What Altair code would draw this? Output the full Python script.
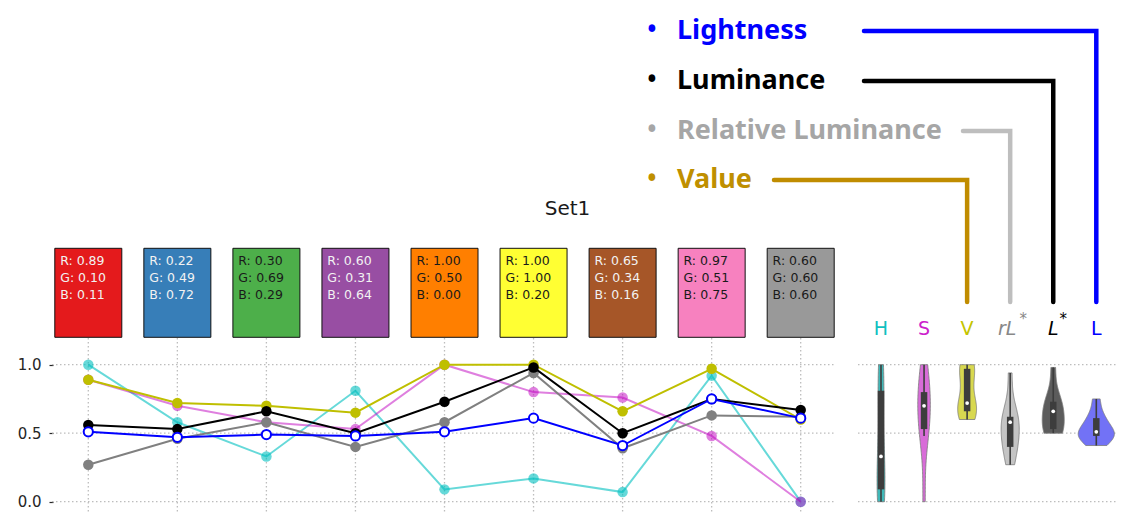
import altair as alt
import numpy as np
import pandas as pd

# ---------------- data ----------------
swatch_hex = ["#e41a1c", "#377eb8", "#4daf4a", "#984ea3", "#ff7f00",
              "#ffff33", "#a65628", "#f781bf", "#999999"]
rgb_r = [0.89, 0.22, 0.30, 0.60, 1.00, 1.00, 0.65, 0.97, 0.60]
rgb_g = [0.10, 0.49, 0.69, 0.31, 0.50, 1.00, 0.34, 0.51, 0.60]
rgb_b = [0.11, 0.72, 0.29, 0.64, 0.00, 0.20, 0.16, 0.75, 0.60]

hue = [1.00, 0.58, 0.33, 0.81, 0.09, 0.17, 0.07, 0.92, 0.00]
saturation = [0.89, 0.70, 0.58, 0.53, 1.00, 0.80, 0.76, 0.48, 0.00]
value = [0.89, 0.72, 0.70, 0.65, 1.00, 1.00, 0.66, 0.97, 0.60]
rel_luminance = [0.27, 0.46, 0.58, 0.40, 0.58, 0.94, 0.39, 0.63, 0.62]
luminance = [0.56, 0.53, 0.66, 0.50, 0.73, 0.98, 0.50, 0.75, 0.67]
lightness = [0.51, 0.47, 0.49, 0.48, 0.51, 0.61, 0.41, 0.75, 0.61]

metric_keys = ["H", "S", "V", "rL", "Lstar", "L"]
metric_values = [hue, saturation, value, rel_luminance, luminance, lightness]
metric_labels = ["H", "S", "V", "rL", "L", "L"]
metric_sup = ["", "", "", "*", "*", ""]

legend_names = ["Lightness", "Luminance", "Relative Luminance", "Value"]
legend_targets = ["L", "Lstar", "rL", "V"]
title_text = "Set1"

# ---------------- styles / layout ----------------
line_colors = ["#00bfbf", "#bf00bf", "#bfbf00", "#808080", "#000000", "#0000ff"]
line_opac = [0.6, 0.5, 1.0, 1.0, 1.0, 1.0]
violin_fill = ["#3fb8b8", "#d86cd8", "#d8d850", "#c4c4c4", "#5c5c5c", "#7272f6"]
label_colors = ["#10c0c0", "#cc22cc", "#c4c400", "#888888", "#000000", "#0000ff"]
legend_text_colors = ["#0000ff", "#000000", "#a6a6a6", "#bf8f00"]
legend_line_colors = ["#0000ff", "#000000", "#bebebe", "#c08c00"]
legend_y = [31, 81, 131, 180]
legend_line_start = [864, 864, 963, 774]

CW, CH = 1134, 531
LEFT = 53
X0, DX = 88.3, 89.05      # pixel of first category, spacing
Y0, DY = 501.7, 137.0     # pixel of value 0, pixels per unit
VX0, VSTEP = 881.0, 43.06  # violin panel columns


def ux(px):
    return (px - X0) / DX


def uy(py):
    return (Y0 - py) / DY


xscale = alt.Scale(domain=[ux(LEFT), ux(CW)], nice=False, zero=False)
yscale = alt.Scale(domain=[uy(CH), uy(0)], nice=False, zero=False)
YAX = alt.Axis(values=[0, 0.5, 1], format=".1f", domain=False, grid=False,
               tickSize=4, tickColor="#262626", tickWidth=1.2,
               labelFont="DejaVu Sans", labelFontSize=15, labelColor="#262626",
               labelPadding=8, title=None)


def Y(field):
    return alt.Y(field, scale=yscale, axis=YAX, title=None)


def X(field):
    return alt.X(field, scale=xscale, axis=None)


n = len(swatch_hex)
vpos = {k: ux(VX0 + VSTEP * j) for j, k in enumerate(metric_keys)}

long_rows = []
for k, vals in zip(metric_keys, metric_values):
    for i, v in enumerate(vals):
        long_rows.append({"idx": i, "metric": k, "value": v, "vpos": vpos[k]})
long_df = pd.DataFrame(long_rows)

sw_df = pd.DataFrame({"idx": list(range(n)), "hex": swatch_hex})
txt_rows = []
for i in range(n):
    lum = 0.2126 * rgb_r[i] + 0.7152 * rgb_g[i] + 0.0722 * rgb_b[i]
    tc = "#f2f2f2" if lum < 0.5 else "#1a1a1a"
    for k, (ch, v) in enumerate(zip("RGB", (rgb_r[i], rgb_g[i], rgb_b[i]))):
        txt_rows.append({"idx": i, "line": k, "label": f"{ch}: {v:.2f}", "tc": tc})
txt_df = pd.DataFrame(txt_rows)

layers = []

# vertical grid of the line panel
vg = pd.DataFrame({"idx": list(range(n))})
layers.append(
    alt.Chart(vg).transform_calculate(y1=str(uy(338)), y2=str(uy(514)))
    .mark_rule(color="#bdbdbd", strokeWidth=1.3, strokeDash=[1.5, 2.5])
    .encode(x=X("idx:Q"), y=Y("y1:Q"), y2="y2:Q")
)

# horizontal grids (line panel + violin panel)
hg = pd.DataFrame({"t": [0.0, 0.5, 1.0]})
for a, b in [(52, 836), (858, 1116)]:
    layers.append(
        alt.Chart(hg).transform_calculate(xa=str(ux(a)), xb=str(ux(b)))
        .mark_rule(color="#bdbdbd", strokeWidth=1.3, strokeDash=[1.5, 2.5])
        .encode(y=Y("t:Q"), x=X("xa:Q"), x2="xb:Q")
    )

# swatches
half = 33.5 / DX
layers.append(
    alt.Chart(sw_df).transform_calculate(
        xa=f"datum.idx - {half}", xb=f"datum.idx + {half}",
        ya=str(uy(248.3)), yb=str(uy(337.3)))
    .mark_rect(stroke="#111111", strokeWidth=1)
    .encode(x=X("xa:Q"), x2="xb:Q", y=Y("ya:Q"), y2="yb:Q",
            fill=alt.Fill("hex:N", scale=None))
)
layers.append(
    alt.Chart(txt_df).transform_calculate(
        tx=f"datum.idx - {(X0 - 60.2) / DX}",
        ty=f"{uy(261)} - datum.line * {17.2 / DY}")
    .mark_text(align="left", baseline="middle", font="DejaVu Sans", fontSize=12.5)
    .encode(x=X("tx:Q"), y=Y("ty:Q"),
            text="label:N", color=alt.Color("tc:N", scale=None))
)

# lines and points
for j, k in enumerate(metric_keys):
    base = alt.Chart(long_df).transform_filter(alt.datum.metric == k)
    enc = dict(x=X("idx:Q"), y=Y("value:Q"))
    layers.append(base.mark_line(color=line_colors[j], opacity=line_opac[j],
                                 strokeWidth=2).encode(**enc))
    if k == "L":
        layers.append(base.mark_point(filled=True, fill="white", stroke=line_colors[j],
                                      strokeWidth=2, size=85, opacity=1).encode(**enc))
    else:
        layers.append(base.mark_point(filled=True, color=line_colors[j],
                                      opacity=line_opac[j], size=110).encode(**enc))

# violins (seaborn-like: scott bandwidth, cut=0, area scaling)
bws, maxd = {}, 0.0
for k, vals in zip(metric_keys, metric_values):
    arr = np.array(vals, dtype=float)
    bw = arr.std(ddof=1) * len(arr) ** (-0.2)
    bws[k] = bw
    grid = np.linspace(arr.min(), arr.max(), 100)
    dens = np.exp(-0.5 * ((grid[:, None] - arr[None, :]) / bw) ** 2).sum(1) / (len(arr) * bw * np.sqrt(2 * np.pi))
    maxd = max(maxd, dens.max())
K = 0.42 * VSTEP / DX / maxd

for j, (k, vals) in enumerate(zip(metric_keys, metric_values)):
    layers.append(
        alt.Chart(long_df).transform_filter(alt.datum.metric == k)
        .transform_density("value", as_=["v", "dens"], bandwidth=bws[k],
                           extent=[float(min(vals)), float(max(vals))], steps=100)
        .transform_calculate(xl=f"{vpos[k]} - datum.dens * {K}",
                             xr=f"{vpos[k]} + datum.dens * {K}")
        .mark_area(orient="horizontal", fill=violin_fill[j], stroke="#7a7a7a",
                   strokeWidth=1, strokeOpacity=0.8)
        .encode(y=Y("v:Q"), x=X("xl:Q"), x2="xr:Q")
    )

# inner boxes
box_base = alt.Chart(long_df)
layers.append(
    box_base.transform_joinaggregate(q1="q1(value)", q3="q3(value)", groupby=["metric"])
    .transform_filter("datum.value >= datum.q1 - 1.5*(datum.q3-datum.q1) && datum.value <= datum.q3 + 1.5*(datum.q3-datum.q1)")
    .transform_aggregate(lo="min(value)", hi="max(value)", groupby=["metric", "vpos"])
    .mark_rule(color="#3d3d3d", strokeWidth=1.6)
    .encode(x=X("vpos:Q"), y=Y("lo:Q"), y2="hi:Q")
)
layers.append(
    box_base.transform_aggregate(q1="q1(value)", q3="q3(value)", groupby=["metric", "vpos"])
    .mark_rule(color="#3d3d3d", strokeWidth=6.5)
    .encode(x=X("vpos:Q"), y=Y("q1:Q"), y2="q3:Q")
)
layers.append(
    box_base.transform_aggregate(med="median(value)", groupby=["metric", "vpos"])
    .mark_point(filled=True, color="white", opacity=1, size=14)
    .encode(x=X("vpos:Q"), y=Y("med:Q"))
)

# column labels of the violin panel
lab_rows = []
for j, k in enumerate(metric_keys):
    cx = VX0 + VSTEP * j
    italic = k in ("rL", "Lstar")
    lab_rows.append({"px": cx - (3 if k == "rL" else 0) - LEFT, "py": 329,
                     "t": metric_labels[j], "c": label_colors[j],
                     "st": "italic" if italic else "normal", "fs": 19})
    if metric_sup[j]:
        lab_rows.append({"px": cx + (13 if k == "rL" else 10) - LEFT, "py": 319,
                         "t": metric_sup[j], "c": label_colors[j],
                         "st": "normal", "fs": 15})
lab_df = pd.DataFrame(lab_rows)
for st in ("normal", "italic"):
    for fs in (19, 15):
        sub = lab_df[(lab_df.st == st) & (lab_df.fs == fs)]
        if len(sub) == 0:
            continue
        layers.append(
            alt.Chart(sub).mark_text(align="center", baseline="middle",
                                     font="DejaVu Sans", fontSize=fs, fontStyle=st)
            .encode(x=alt.X("px:Q", scale=None), y=alt.Y("py:Q", scale=None),
                    text="t:N", color=alt.Color("c:N", scale=None))
        )

# title
layers.append(
    alt.Chart(pd.DataFrame({"t": [title_text]}))
    .mark_text(font="DejaVu Sans", fontSize=20, color="#1a1a1a",
               align="center", baseline="alphabetic")
    .encode(x=alt.value(567.5 - LEFT), y=alt.value(215), text="t:N")
)

# legend with connectors
leg_rows, con_rows = [], []
for i, nm in enumerate(legend_names):
    leg_rows.append({"px": 677 - LEFT, "py": legend_y[i], "t": nm,
                     "c": legend_text_colors[i], "bx": 652 - LEFT})
    colx = VX0 + VSTEP * metric_keys.index(legend_targets[i])
    for o, (px, py) in enumerate([(legend_line_start[i], legend_y[i]),
                                  (colx, legend_y[i]), (colx, 302)]):
        con_rows.append({"name": nm, "o": o, "px": px - LEFT, "py": py,
                         "c": legend_line_colors[i]})
leg_df = pd.DataFrame(leg_rows)
con_df = pd.DataFrame(con_rows)
layers.append(
    alt.Chart(con_df).mark_line(strokeWidth=4.5, strokeCap="round", strokeJoin="miter")
    .encode(x=alt.X("px:Q", scale=None), y=alt.Y("py:Q", scale=None),
            detail="name:N", order="o:Q", color=alt.Color("c:N", scale=None))
)
layers.append(
    alt.Chart(leg_df).mark_text(align="left", baseline="middle", font="Noto Sans",
                                fontSize=27, fontWeight="bold")
    .encode(x=alt.X("px:Q", scale=None), y=alt.Y("py:Q", scale=None),
            text="t:N", color=alt.Color("c:N", scale=None))
)
layers.append(
    alt.Chart(leg_df).transform_calculate(b="'•'")
    .mark_text(align="center", baseline="middle", font="Noto Sans", fontSize=30)
    .encode(x=alt.X("bx:Q", scale=None), y=alt.Y("py:Q", scale=None),
            text="b:N", color=alt.Color("c:N", scale=None))
)

chart = alt.layer(*layers).properties(
    width=CW - LEFT, height=CH,
    autosize=alt.AutoSizeParams(type="none"),
    padding={"left": LEFT, "top": 0, "right": 0, "bottom": 0},
    background="white",
).configure_view(stroke=None)

chart.save("out.html", embed_options={"renderer": "svg", "actions": False})
